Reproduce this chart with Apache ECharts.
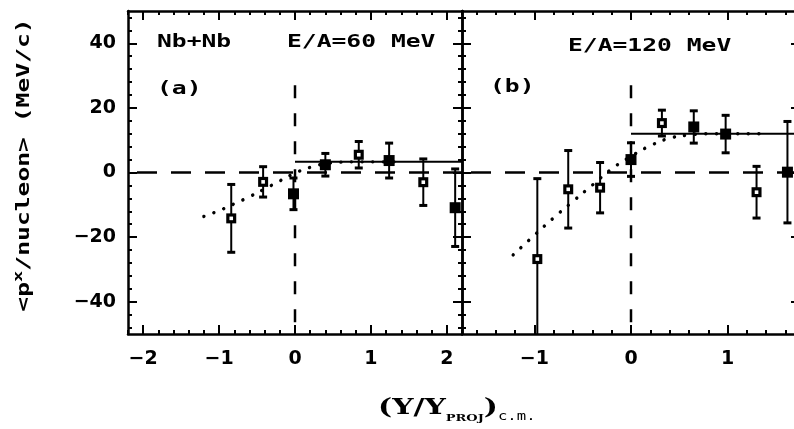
<!DOCTYPE html>
<html>
<head>
<meta charset="utf-8">
<script src="https://cdn.jsdelivr.net/npm/echarts@6/dist/echarts.min.js"></script>
<style>html,body{margin:0;padding:0;background:#fff}#main{width:794px;height:429px}</style>
</head>
<body>
<div id="main"></div>
<script>
// panel (a): Nb+Nb, E/A=60 MeV  -- [Y/Yproj, <px/nucleon>, error]
var aFilled = [[-0.02, -6.6, 4.9], [0.40, 2.4, 3.5], [1.24, 3.7, 5.4], [2.11, -10.9, 12.0]];
var aOpen = [[-0.84, -14.2, 10.5], [-0.42, -2.9, 4.7], [0.84, 5.5, 4.1], [1.69, -3.0, 7.2]];
var aFitX = [-1.2, -1.0, -0.8, -0.6, -0.4, -0.2, 0.0, 0.2, 0.4, 0.6, 0.8, 1.0, 1.4];
var aFitY = [-13.6, -11.8, -9.7, -7.5, -5.1, -2.6, -0.2, 1.6, 2.7, 3.2, 3.3, 3.3, 3.3];
var aFlat = 3.3;

// panel (b): E/A=120 MeV
var bFilled = [[0.0, 4.0, 5.2], [0.65, 14.1, 5.0], [0.98, 11.9, 5.8], [1.62, 0.1, 15.7]];
var bOpen = [[-0.97, -26.8, 24.9], [-0.65, -5.2, 12.0], [-0.32, -4.7, 7.8], [0.32, 15.3, 4.0], [1.30, -6.1, 8.0]];
var bFitX = [-1.22, -1.0, -0.8, -0.6, -0.4, -0.2, 0.0, 0.2, 0.4, 0.6, 0.8, 1.0, 1.4];
var bFitY = [-25.5, -19.4, -14.0, -8.9, -3.9, 1.1, 5.0, 8.3, 10.6, 11.6, 12.0, 12.0, 12.0];
var bFlat = 12.0;

var xTicksA = [-2, -1, 0, 1, 2];
var xTicksB = [-1, 0, 1];
var yTicks = [-40, -20, 0, 20, 40];

var xRangeA = [-2.2, 2.2];
var xRangeB = [-1.75, 1.75];
var yRange = [-50, 50];

var myChart = echarts.init(document.getElementById('main'));

function zip(xs, ys) {
    var res = [];
    for (var i = 0; i < xs.length; i++) res.push([xs[i], ys[i]]);
    return res;
}
function steps(lo, hi, step) {
    var res = [];
    for (var v = Math.ceil(lo / step - 1e-9) * step; v <= hi + 1e-9; v += step) res.push(+v.toFixed(4));
    return res;
}
function fmt(v) {
    return v < 0 ? '\u2212' + Math.abs(v) : '' + v;
}

// major + minor axis for one side of one grid
function axisPair(grid, pos, range, major, minorStep, labels) {
    var horiz = (pos == 'top' || pos == 'bottom');
    var labelOpt = labels ? {
        show: true, customValues: major, formatter: fmt, color: '#000',
        fontFamily: 'DejaVu Sans', fontWeight: 'bold', fontSize: 19,
        margin: horiz ? 16 : 12
    } : {show: false};
    return [{
        type: 'value', gridIndex: grid, position: pos, min: range[0], max: range[1],
        axisLine: {show: true, onZero: false, lineStyle: {color: '#000', width: 2.5}},
        axisTick: {show: true, inside: true, length: 9, customValues: major, lineStyle: {color: '#000', width: 2}},
        axisLabel: labelOpt,
        splitLine: {show: false}
    }, {
        type: 'value', gridIndex: grid, position: pos, min: range[0], max: range[1],
        axisLine: {show: false, onZero: false},
        axisTick: {show: true, inside: true, length: 4, customValues: steps(range[0], range[1], minorStep), lineStyle: {color: '#000', width: 2}},
        axisLabel: {show: false},
        splitLine: {show: false}
    }];
}

function errItem(open) {
    return function (params, api) {
        var x = api.value(0), y = api.value(1), e = api.value(2);
        var cs = params.coordSys;
        var p = api.coord([x, y]);
        var t = api.coord([x, y + e]);
        var b = api.coord([x, y - e]);
        var top = Math.max(t[1], cs.y), bot = Math.min(b[1], cs.y + cs.height);
        var kids = [{type: 'line', shape: {x1: p[0], y1: top, x2: p[0], y2: bot}, style: {stroke: '#000', lineWidth: 2}}];
        if (t[1] >= cs.y) kids.push({type: 'line', shape: {x1: p[0] - 4, y1: t[1], x2: p[0] + 4, y2: t[1]}, style: {stroke: '#000', lineWidth: 3}});
        if (b[1] <= cs.y + cs.height) kids.push({type: 'line', shape: {x1: p[0] - 4, y1: b[1], x2: p[0] + 4, y2: b[1]}, style: {stroke: '#000', lineWidth: 3}});
        var s = open ? 10 : 11;
        kids.push({type: 'rect', shape: {x: p[0] - s / 2, y: p[1] - s / 2, width: s, height: s}, style: {fill: '#000'}});
        if (open) kids.push({type: 'rect', shape: {x: p[0] - 1.8, y: p[1] - 1.8, width: 3.6, height: 3.6}, style: {fill: '#fff'}});
        return {type: 'group', children: kids};
    };
}

function panelSeries(xi, yi, xr, filled, open, fitX, fitY, flat) {
    var base = {xAxisIndex: xi, yAxisIndex: yi, silent: true, animation: false};
    return [
        Object.assign({type: 'line', data: [[xr[0], 0], [xr[1], 0]], symbol: 'none',
            lineStyle: {color: '#000', width: 2.5, type: [20, 14], dashOffset: 25}}, base),
        Object.assign({type: 'line', data: [[0, 27], [0, yRange[0]]], symbol: 'none',
            lineStyle: {color: '#000', width: 2.5, type: [13, 15]}}, base),
        Object.assign({type: 'line', data: [[0, flat], [xr[1], flat]], symbol: 'none',
            lineStyle: {color: '#000', width: 2}}, base),
        Object.assign({type: 'line', data: zip(fitX, fitY), symbol: 'none', smooth: true,
            lineStyle: {color: '#000', width: 3.4, type: [0.1, 10.5], cap: 'round'}}, base),
        Object.assign({type: 'custom', data: filled, renderItem: errItem(false), z: 5}, base),
        Object.assign({type: 'custom', data: open, renderItem: errItem(true), z: 5}, base)
    ];
}

var xAxes = [].concat(
    axisPair(0, 'bottom', xRangeA, xTicksA, 0.2, true),
    axisPair(0, 'top', xRangeA, xTicksA, 0.2, false),
    axisPair(1, 'bottom', xRangeB, xTicksB, 0.2, true),
    axisPair(1, 'top', xRangeB, xTicksB, 0.2, false)
);
var yAxes = [].concat(
    axisPair(0, 'left', yRange, yTicks, 4, true),
    axisPair(0, 'right', yRange, yTicks, 4, false),
    axisPair(1, 'left', yRange, yTicks, 4, false),
    axisPair(1, 'right', yRange, yTicks, 4, false)
);

var mono = {fontFamily: 'DejaVu Sans Mono', fontWeight: 'bold', fontSize: 17, fill: '#000'};
function label(txt, x, y) {
    return {type: 'text', x: x, y: y, scaleX: 1.45, silent: true,
        style: Object.assign({text: txt, align: 'left', verticalAlign: 'middle'}, mono)};
}

var option = {
    backgroundColor: '#fff',
    animation: false,
    grid: [
        {left: 128, top: 11, width: 334, height: 323, outerBoundsMode: 'none'},
        {left: 462, top: 11, width: 338, height: 323, outerBoundsMode: 'none'}
    ],
    xAxis: xAxes,
    yAxis: yAxes,
    series: [].concat(
        panelSeries(0, 0, xRangeA, aFilled, aOpen, aFitX, aFitY, aFlat),
        panelSeries(4, 4, xRangeB, bFilled, bOpen, bFitX, bFitY, bFlat)
    ),
    graphic: [
        label('Nb+Nb', 157, 43),
        label('E/A=60 MeV', 287, 43),
        label('(a)', 157, 90),
        label('E/A=120 MeV', 568, 47),
        label('(b)', 490, 88),
        {type: 'text', x: 25, y: 165, rotation: Math.PI / 2, scaleX: 1.45, silent: true,
            style: {text: '{m|<p}{s|x}{m|/nucleon> (MeV/c)}', align: 'center', verticalAlign: 'middle',
                rich: {
                    m: {fontFamily: 'DejaVu Sans Mono', fontWeight: 'bold', fontSize: 17, lineHeight: 26, fill: '#000'},
                    s: {fontFamily: 'DejaVu Sans Mono', fontWeight: 'bold', fontSize: 13, lineHeight: 26, verticalAlign: 'top', fill: '#000'}
                }}},
        {type: 'text', x: 378, y: 408, scaleX: 1.3, silent: true,
            style: {text: '{m|(Y/Y}{s|PROJ}{m|)}{c|c.m.}', align: 'left', verticalAlign: 'middle',
                rich: {
                    m: {fontFamily: 'DejaVu Serif', fontWeight: 'bold', fontSize: 23, lineHeight: 30, fill: '#000'},
                    s: {fontFamily: 'DejaVu Serif', fontWeight: 'bold', fontSize: 10, lineHeight: 30, verticalAlign: 'bottom', fill: '#000'},
                    c: {fontFamily: 'DejaVu Sans Mono', fontSize: 12, lineHeight: 30, verticalAlign: 'bottom', fill: '#000'}
                }}}
    ]
};
myChart.setOption(option);
</script>
</body>
</html>
